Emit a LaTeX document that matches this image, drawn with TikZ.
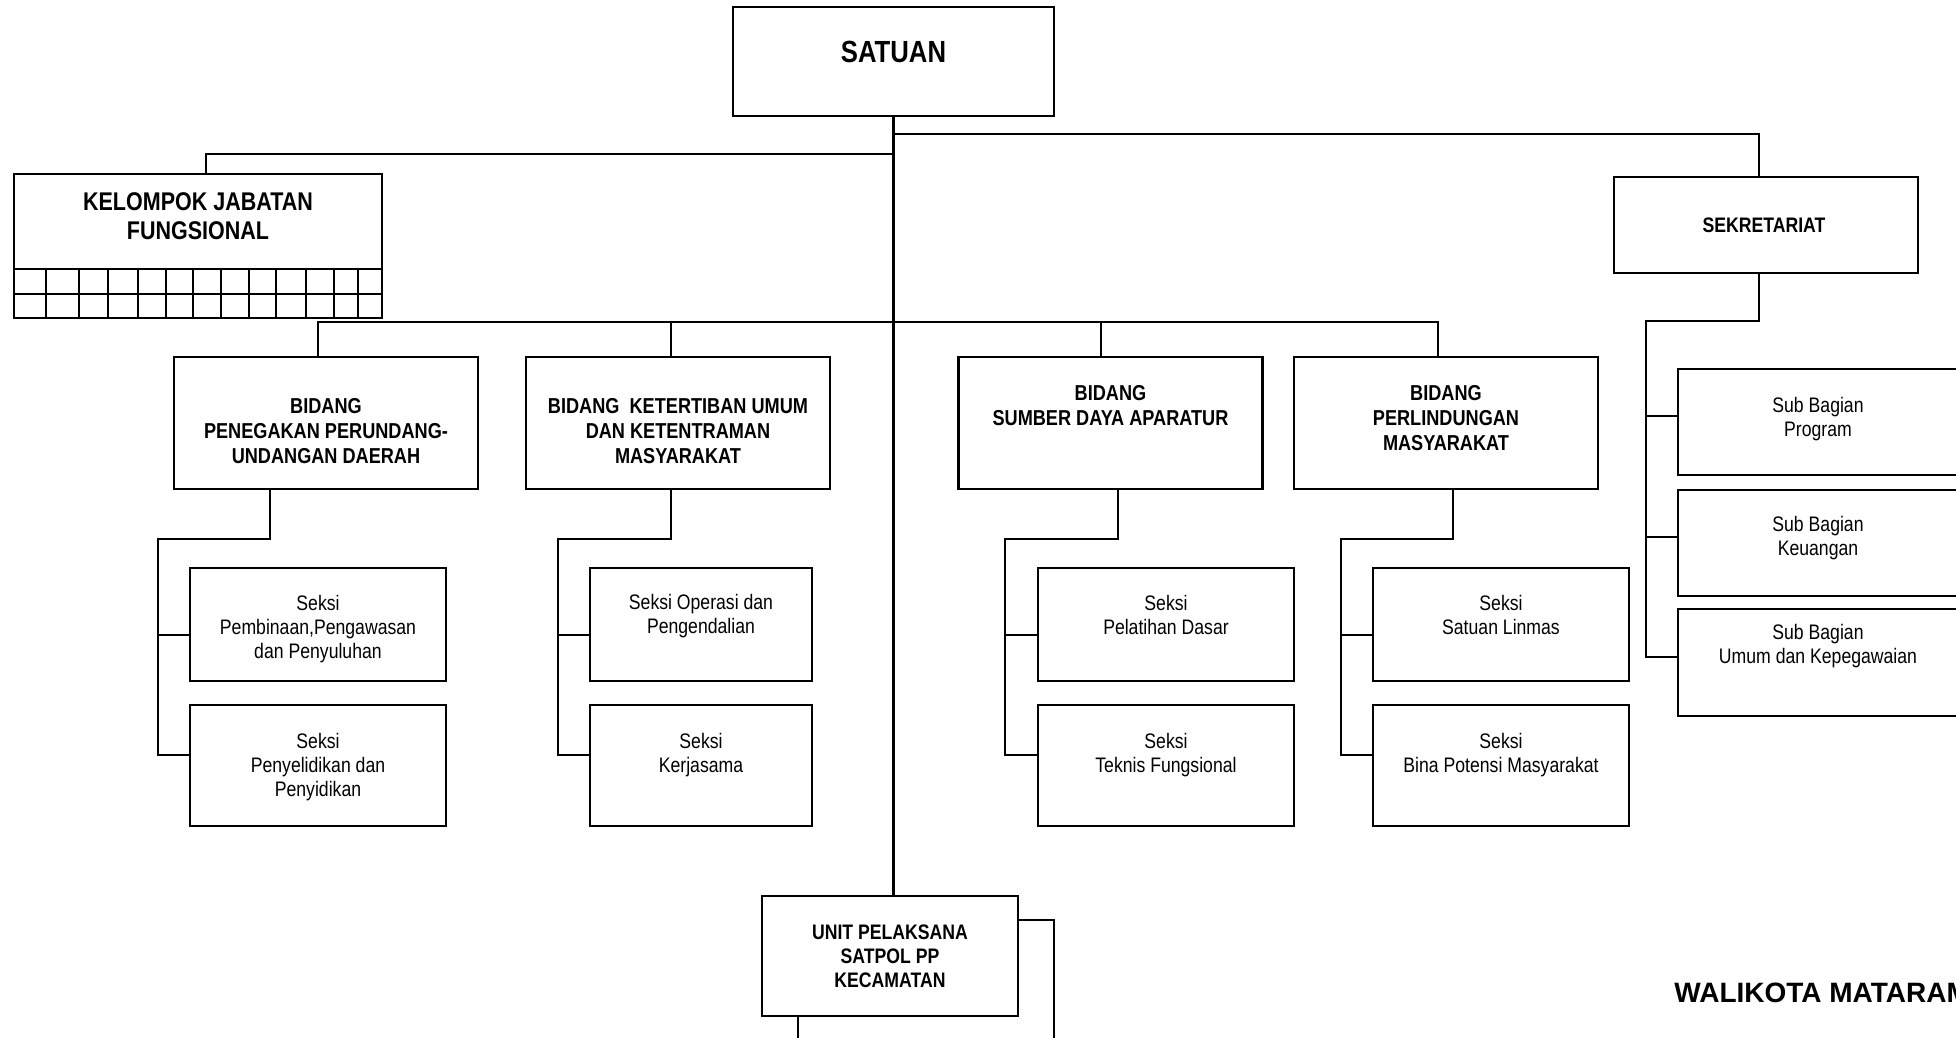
\documentclass[tikz,border=0pt]{standalone}
\usepackage{fontspec}
\setmainfont{Liberation Sans}[FakeStretch=0.84]
\newfontfamily\wkfont{Liberation Sans}

\begin{document}
\begin{tikzpicture}[x=0.5pt,y=-0.5pt,
  ln/.style={line width=1.1pt},
  box/.style={draw,line width=1.1pt,inner sep=0pt},
  bidbox/.style={box,minimum width=152pt,minimum height=66pt},
  seksibox/.style={box,minimum width=128pt},
  subbox/.style={box,minimum width=140pt,minimum height=53pt},
  hd/.style={font=\bfseries\fontsize{10.8}{12.5}\selectfont,align=center,inner sep=0pt},
  hdsmall/.style={font=\bfseries\fontsize{10.5}{12}\selectfont,align=center,inner sep=0pt},
  txt/.style={font=\fontsize{10.5}{12.2}\selectfont,align=center,inner sep=0pt}]
\useasboundingbox (0,0) rectangle (1956,1038);

%Top box
\node[box,minimum width=160.5pt,minimum height=54.5pt] (satuan) at (893.5,61.5) {};
\node[font=\bfseries\fontsize{15.3}{18}\selectfont,inner sep=0pt] (tsatuan) at (893.5,52) {SATUAN};

%Kelompok jabatan fungsional
\node[box,minimum width=184pt,minimum height=72pt] (kjf) at (198,246) {};
\node[font=\bfseries\fontsize{12.8}{14.5}\selectfont,align=center,inner sep=0pt] (tkjf) at (198,216) {KELOMPOK JABATAN\\FUNGSIONAL};
\draw[ln] (14,269) -- (382,269) (14,294) -- (382,294);
\foreach \gx in {46,79,108,138,166,193,221,249,276,306,334,358}
  \draw[ln] (\gx,269) -- (\gx,318);

%Sekretariat
\node[box,minimum width=152pt,minimum height=48pt] (sekr) at (1766,225) {};
\node[hdsmall] (tsekr) at (1764,225) {SEKRETARIAT};

%Bidang
\node[bidbox] (bpp) at (326,423) {};
\node[hd] (tbpp) at (326,431) {BIDANG\\PENEGAKAN PERUNDANG-\\UNDANGAN DAERAH};
\node[bidbox] (bku) at (678,423) {};
\node[hd] (tbku) at (678,431) {BIDANG\ \ KETERTIBAN UMUM\\DAN KETENTRAMAN\\MASYARAKAT};
\node[bidbox] (bsd) at (1110.5,423) {};
\node[hd] (tbsd) at (1110.5,405.5) {BIDANG\\SUMBER DAYA APARATUR};
\node[bidbox] (bpl) at (1446,423) {};
\node[hd] (tbpl) at (1446,418) {BIDANG\\PERLINDUNGAN\\MASYARAKAT};

%Seksi
\node[seksibox,minimum height=56.5pt] (s1a) at (318,624.5) {};
\node[txt] (ts1a) at (318,629) {Seksi\\Pembinaan,Pengawasan\\dan Penyuluhan};
\node[seksibox,minimum height=60.5pt] (s1b) at (318,765.5) {};
\node[txt] (ts1b) at (318,767) {Seksi\\Penyelidikan dan\\Penyidikan};
\node[seksibox,minimum width=111pt,minimum height=56.5pt] (s2a) at (701,624.5) {};
\node[txt] (ts2a) at (701,616) {Seksi Operasi dan\\Pengendalian};
\node[seksibox,minimum width=111pt,minimum height=60.5pt] (s2b) at (701,765.5) {};
\node[txt] (ts2b) at (701,755) {Seksi\\Kerjasama};
\node[seksibox,minimum height=56.5pt] (s3a) at (1166,624.5) {};
\node[txt] (ts3a) at (1166,615) {Seksi\\Pelatihan Dasar};
\node[seksibox,minimum height=60.5pt] (s3b) at (1166,765.5) {};
\node[txt] (ts3b) at (1166,755) {Seksi\\Teknis Fungsional};
\node[seksibox,minimum height=56.5pt] (s4a) at (1501,624.5) {};
\node[txt] (ts4a) at (1501,615) {Seksi\\Satuan Linmas};
\node[seksibox,minimum height=60.5pt] (s4b) at (1501,765.5) {};
\node[txt] (ts4b) at (1501,755) {Seksi\\Bina Potensi Masyarakat};

%Sub bagian
\node[subbox] (sb1) at (1818,422) {};
\node[txt] (tsb1) at (1818,419) {Sub Bagian\\Program};
\node[subbox] (sb2) at (1818,543) {};
\node[txt] (tsb2) at (1818,538) {Sub Bagian\\Keuangan};
\node[subbox,minimum height=53.5pt] (sb3) at (1818,662.5) {};
\node[txt] (tsb3) at (1818,646) {Sub Bagian\\Umum dan Kepegawaian};

%Unit pelaksana
\node[box,minimum width=128pt,minimum height=60pt] (unit) at (890,956) {};
\node[hdsmall] (tunit) at (890,956) {UNIT PELAKSANA\\SATPOL PP\\KECAMATAN};

\node[font=\wkfont\bfseries\fontsize{14}{16}\selectfont,anchor=base west,inner sep=0pt] (walikota) at (1674,1002) {WALIKOTA MATARAM};

%Lines
\coordinate (hubR) at (894,134);
\coordinate (hubL) at (894,154);
\coordinate (bus) at (894,322);
\draw[ln] (satuan.south) -- (satuan.south |- unit.north);
\draw[ln] (hubL) -| ([xshift=4pt]kjf.north);
\draw[ln] (hubR) -| ([xshift=-3.5pt]sekr.north);
\draw[ln] ([xshift=-4pt]bpp.north) |- (bus) -| ([xshift=-4pt]bpl.north);
\draw[ln] ([xshift=-3.5pt]bku.north) |- (bus);
\draw[ln] ([xshift=-4.75pt]bsd.north) |- (bus);

\coordinate (k1) at (158,539);
\draw[ln] ([xshift=-28pt]bpp.south) |- (k1) |- ([yshift=5.25pt]s1b.west);
\draw[ln] ([yshift=-5.25pt]s1a.west) -| (k1);
\coordinate (k2) at (558,539);
\draw[ln] ([xshift=-3.5pt]bku.south) |- (k2) |- ([yshift=5.25pt]s2b.west);
\draw[ln] ([yshift=-5.25pt]s2a.west) -| (k2);
\coordinate (k3) at (1005,539);
\draw[ln] ([xshift=3.75pt]bsd.south) |- (k3) |- ([yshift=5.25pt]s3b.west);
\draw[ln] ([yshift=-5.25pt]s3a.west) -| (k3);
\coordinate (k4) at (1341,539);
\draw[ln] ([xshift=3.5pt]bpl.south) |- (k4) |- ([yshift=5.25pt]s4b.west);
\draw[ln] ([yshift=-5.25pt]s4a.west) -| (k4);

\coordinate (ks) at (1646,321);
\draw[ln] ([xshift=-3.5pt]sekr.south) |- (ks) |- ([yshift=2.75pt]sb3.west);
\draw[ln] ([yshift=3pt]sb1.west) -| (ks);
\draw[ln] ([yshift=3pt]sb2.west) -| (ks);

\coordinate (uR) at (1054,1045);
\coordinate (uL) at (798,1045);
\draw[ln] ([yshift=18pt]unit.east) -| (uR);
\draw[ln] (unit.south -| uL) -- (uL);
\end{tikzpicture}
\end{document}
